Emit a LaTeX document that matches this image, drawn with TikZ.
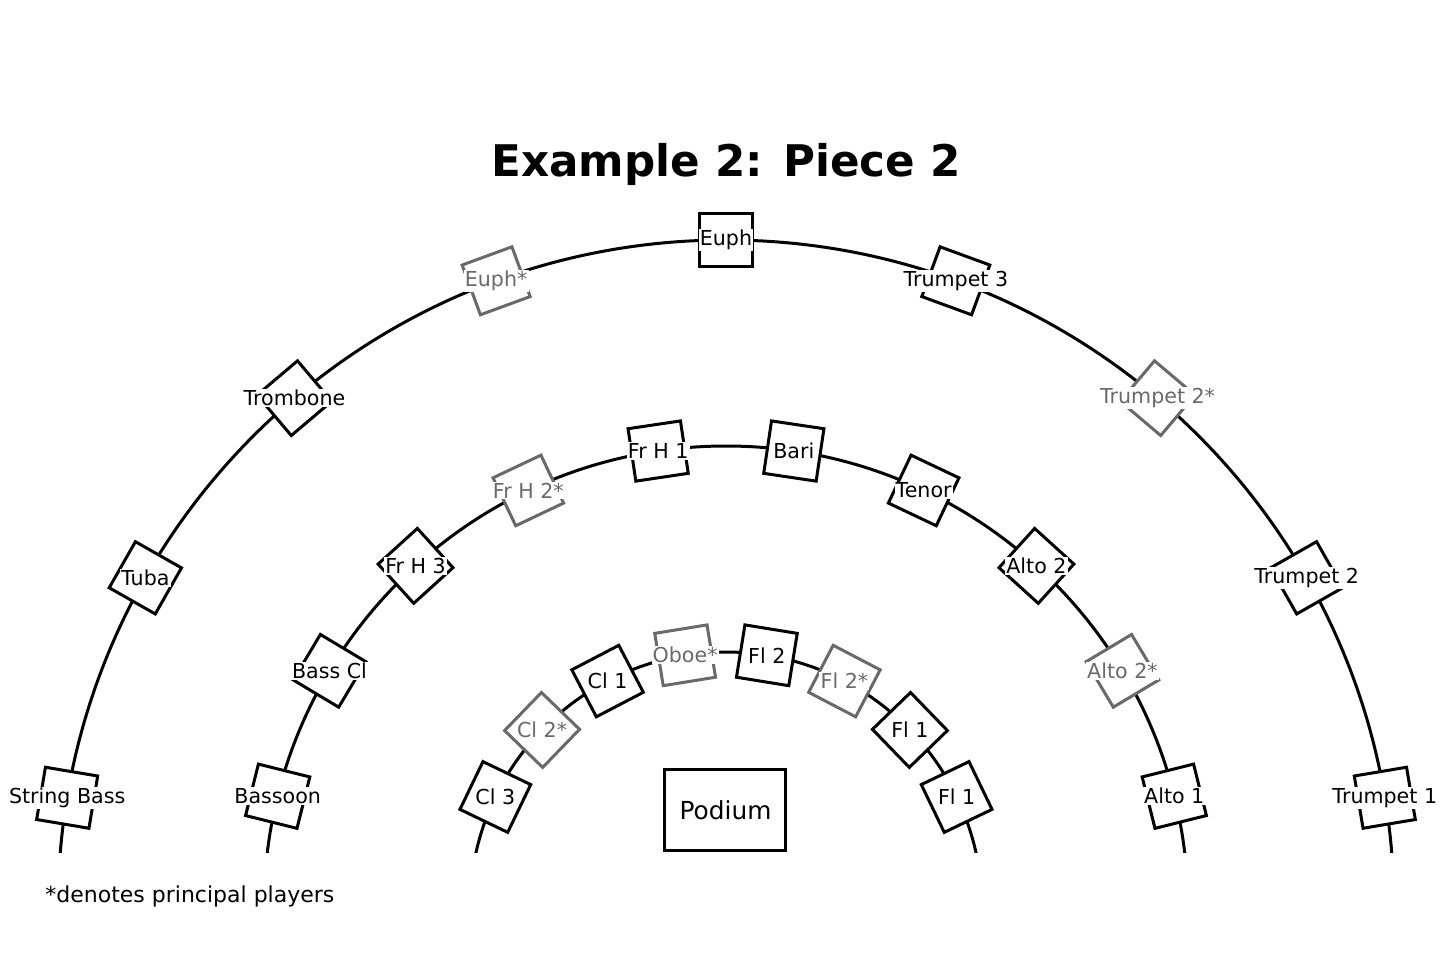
\documentclass[tikz,border=0pt]{standalone}
\usepackage{fontspec}
\setmainfont{DejaVu Sans}
\usepackage{xcolor}
\definecolor{principal}{HTML}{696969}
\usepackage{tikz}

\tikzset{
  seat/.style={draw=black, fill=white, line width=1.5pt, minimum size=26.5pt, inner sep=0pt},
  seatlabel/.style={fill=white, inner sep=0.6pt, font=\fontsize{10.3}{12}\selectfont}
}

\begin{document}
\begin{tikzpicture}[line join=miter]
  \useasboundingbox (-363pt,-31.5pt) rectangle (363pt,454pt);
  \begin{scope}
    \clip (-363pt,28pt) rectangle (363pt,454pt);
    \foreach \r in {128,231,334}
      \draw[line width=1.5pt] (0,0) circle[radius=\r pt];
  \end{scope}

  \foreach \name/\col [count=\i] in {String Bass/black,Tuba/black,Trombone/black,Euph*/principal,Euph/black,Trumpet 3/black,Trumpet 2*/principal,Trumpet 2/black,Trumpet 1/black} {
    \pgfmathsetmacro{\a}{170.5-(\i-1)*161/8}
    \node[seat, draw=\col, rotate=\a-90] (brass\i) at (\a:334pt) {};
    \node[seatlabel, text=\col] (brass\i-txt) at (brass\i) {\name};
  }

  \foreach \name/\col [count=\i] in {Bassoon/black,Bass Cl/black,Fr H 3/black,Fr H 2*/principal,Fr H 1/black,Bari/black,Tenor/black,Alto 2/black,Alto 2*/principal,Alto 1/black} {
    \pgfmathsetmacro{\a}{166-(\i-1)*152/9}
    \node[seat, draw=\col, rotate=\a-90] (mid\i) at (\a:231pt) {};
    \node[seatlabel, text=\col] (mid\i-txt) at (mid\i) {\name};
  }

  \foreach \name/\col [count=\i] in {Cl 3/black,Cl 2*/principal,Cl 1/black,Oboe*/principal,Fl 2/black,Fl 2*/principal,Fl 1/black,Fl 1/black} {
    \pgfmathsetmacro{\a}{154.3-(\i-1)*128.6/7}
    \node[seat, draw=\col, rotate=\a-90] (wood\i) at (\a:128pt) {};
    \node[seatlabel, text=\col] (wood\i-txt) at (wood\i) {\name};
  }

  \node[draw, line width=1.5pt, minimum width=60.5pt, minimum height=40.2pt,
        font=\fontsize{12.4}{15}\selectfont] (podium) at (-0.25pt,49pt) {Podium};

  \node[anchor=base, font=\bfseries\fontsize{21.8}{26}\selectfont] (title) at (0,365.5pt) {Example 2: Piece 2};
  \node[anchor=base west, inner sep=0pt, font=\fontsize{11}{13}\selectfont] (note) at (-340.5pt,3pt) {*denotes principal players};
\end{tikzpicture}
\end{document}
